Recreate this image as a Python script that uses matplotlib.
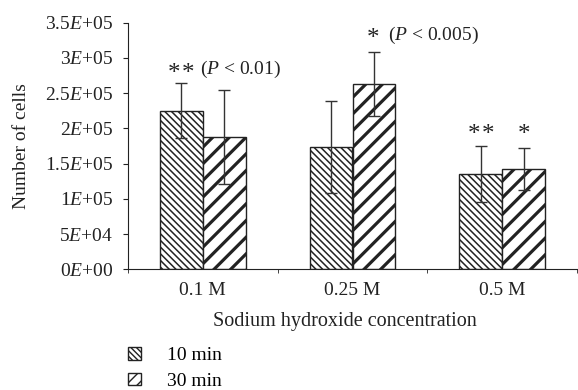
import numpy as np
import matplotlib.pyplot as plt
from matplotlib.patches import Patch

plt.rcParams['font.family'] = ['Liberation Serif', 'DejaVu Serif']
plt.rcParams['mathtext.fontset'] = 'custom'
plt.rcParams['mathtext.rm'] = 'Liberation Serif'
plt.rcParams['mathtext.it'] = 'Liberation Serif:italic'

# data
concentrations = ['0.1 M', '0.25 M', '0.5 M']
cells_10min = [2.25e5, 1.735e5, 1.35e5]
err_10min = [0.39e5, 0.655e5, 0.40e5]
cells_30min = [1.88e5, 2.63e5, 1.42e5]
err_30min = [0.67e5, 0.455e5, 0.30e5]
series_names = ['10 min', '30 min']

ytick_values = [0, 5e4, 1e5, 1.5e5, 2e5, 2.5e5, 3e5, 3.5e5]
ytick_labels = ['0$E$+00', '5$E$+04', '1$E$+05', '1.5$E$+05',
                '2$E$+05', '2.5$E$+05', '3$E$+05', '3.5$E$+05']

# significance marks: stars and the p-value notes
star_x = [-0.195, -0.102, 1.137, 1.810, 1.906, 2.146]
star_y = [2.85e5, 2.85e5, 3.345e5, 1.99e5, 1.99e5, 1.99e5]
note_labels = ['($P$ < 0.01)', '($P$ < 0.005)']
note_x = [-0.017, 1.235]
note_y = [2.83e5, 3.325e5]

fs = 14
ink = '#222222'
fig = plt.figure(figsize=(5.78, 3.9), dpi=100)
ax = fig.add_axes([128 / 578, 1 - 269.3 / 390, 449 / 578, 246.6 / 390])

x = np.arange(len(concentrations))
w = 0.287
b1 = ax.bar(x - w / 2, cells_10min, w, facecolor='white', edgecolor=ink,
            linewidth=1.0, hatch='\\\\\\\\\\')
b2 = ax.bar(x + w / 2, cells_30min, w, facecolor='white', edgecolor=ink,
            linewidth=1.0, hatch='//')
for p in b1:
    if hasattr(p, 'set_hatch_linewidth'):
        p.set_hatch_linewidth(1.1)
for p in b2:
    if hasattr(p, 'set_hatch_linewidth'):
        p.set_hatch_linewidth(2.3)

ax.errorbar(x - w / 2, cells_10min, yerr=err_10min, fmt='none', ecolor='#333333',
            elinewidth=1.0, capsize=4, capthick=1.0)
ax.errorbar(x + w / 2, cells_30min, yerr=err_30min, fmt='none', ecolor='#333333',
            elinewidth=1.0, capsize=4, capthick=1.0)

star_fs = 18
for sx, sy in zip(star_x, star_y):
    ax.annotate('*', (sx, sy), xytext=(0, -0.47 * star_fs), textcoords='offset points',
                ha='center', va='baseline', fontsize=star_fs, color=ink)
for t, tx, ty in zip(note_labels, note_x, note_y):
    ax.text(tx, ty, t, ha='left', va='center', fontsize=fs, color=ink)

ax.set_xlim(-0.5, 2.5)
ax.set_ylim(0, 3.5e5)
ax.spines['top'].set_visible(False)
ax.spines['right'].set_visible(False)
ax.spines['left'].set_color(ink)
ax.spines['bottom'].set_color(ink)

ax.set_yticks(ytick_values)
ax.set_yticklabels(ytick_labels, fontsize=fs, color=ink)
ax.tick_params(axis='y', length=3.6, pad=7, color=ink)

ax.set_xticks(x)
ax.set_xticklabels(concentrations, fontsize=fs, color=ink)
ax.set_xticks([-0.5, 0.5, 1.5, 2.5], minor=True)
ax.tick_params(axis='x', which='major', length=0, pad=9)
ax.tick_params(axis='x', which='minor', length=3, color=ink)

ax.set_xlabel('Sodium hydroxide concentration', fontsize=14.5, color=ink)
ax.xaxis.set_label_coords(0.483, -0.175)
ax.set_ylabel('Number of cells', fontsize=fs, color=ink)
ax.yaxis.set_label_coords(-0.218, 0.5)

handles = [Patch(facecolor='white', edgecolor=ink, hatch='\\\\\\\\\\\\'),
           Patch(facecolor='white', edgecolor=ink, hatch='///')]
fig.legend(handles, series_names, loc='upper left', bbox_to_anchor=(128 / 578, 1 - 347 / 390),
           frameon=False, fontsize=fs, handlelength=0.67, handleheight=0.62,
           handletextpad=1.34, labelspacing=0.43, borderpad=0, borderaxespad=0)

fig.savefig('out.png', dpi=100)
